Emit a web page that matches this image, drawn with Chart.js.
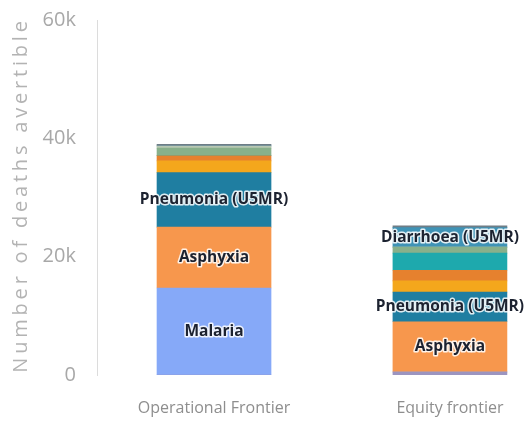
<!DOCTYPE html>
<html>
<head>
<meta charset="utf-8">
<script src="https://cdn.jsdelivr.net/npm/chart.js@4"></script>
<style>
  html, body { margin: 0; padding: 0; background: #fff; }
  #wrap { width: 524px; height: 426px; position: relative; }
</style>
</head>
<body>
<div id="wrap"><canvas id="deathsChart"></canvas></div>
<script>
// categories (x positions 0 and 1)
const categories = ['Operational Frontier', 'Equity frontier'];

// deaths avertible, thousands, bottom of stack first
const otherBottom = [0, 0.5];
const malaria = [14.7, 0];
const asphyxia = [10.3, 8.5];
const pneumonia = [9.2, 5.0];
const amberCause = [2.0, 1.9];
const rustCause = [0.85, 1.8];
const cyanCause = [0, 2.9];
const sageCause = [1.3, 1.0];
const paleCause = [0.35, 0];
const diarrhoea = [0, 3.3];
const topCause = [0.3, 0.3];

const yTicks = [0, 20, 40, 60];

const series = [
  { label: 'Other', data: otherBottom, color: '#9c95c0' },
  { label: 'Malaria', data: malaria, color: '#86a9f8', show: true },
  { label: 'Asphyxia', data: asphyxia, color: '#f7974d', show: true },
  { label: 'Pneumonia (U5MR)', data: pneumonia, color: '#1f7ea1', show: true },
  { label: 'Cause A', data: amberCause, color: '#f4a71c' },
  { label: 'Cause B', data: rustCause, color: '#e6812e' },
  { label: 'Cause C', data: cyanCause, color: '#1ea9ad' },
  { label: 'Cause D', data: sageCause, color: '#88b08b' },
  { label: 'Cause E', data: paleCause, color: '#b9c8b3' },
  { label: 'Diarrhoea (U5MR)', data: diarrhoea, color: '#3f93b6', show: true },
  { label: 'Cause F', data: topCause, color: '#6f7d86' }
];

// labels drawn in the middle of the big segments
const segmentLabels = {
  id: 'segmentLabels',
  afterDatasetsDraw(chart) {
    const ctx = chart.ctx;
    ctx.save();
    ctx.font = 'bold 15.5px "Open Sans"';
    ctx.textAlign = 'center';
    ctx.textBaseline = 'middle';
    ctx.lineJoin = 'round';
    chart.data.datasets.forEach((ds, di) => {
      if (!series[di].show) return;
      chart.getDatasetMeta(di).data.forEach((bar, i) => {
        if (series[di].data[i] < 3) return;
        const y = (bar.y + bar.base) / 2;
        ctx.lineWidth = 3;
        ctx.strokeStyle = 'rgba(255,255,255,0.85)';
        ctx.strokeText(ds.label, bar.x, y);
        ctx.fillStyle = '#1c2230';
        ctx.fillText(ds.label, bar.x, y);
      });
    });
    ctx.restore();
  }
};

// rotated y axis title, spaced out like the original
const yTitle = {
  id: 'yTitle',
  afterDraw(chart) {
    const ctx = chart.ctx;
    ctx.save();
    ctx.translate(21, 195);
    ctx.rotate(-Math.PI / 2);
    ctx.font = '20px "Open Sans"';
    ctx.letterSpacing = '3.8px';
    ctx.fillStyle = '#b3b3b3';
    ctx.textAlign = 'center';
    ctx.textBaseline = 'middle';
    ctx.fillText('Number of deaths avertible', 0, 0);
    ctx.restore();
  }
};

new Chart(document.getElementById('deathsChart'), {
  type: 'bar',
  data: {
    datasets: series.map(s => ({
      label: s.label,
      data: s.data.map((v, i) => ({ x: i, y: v })),
      backgroundColor: s.color,
      borderWidth: 0,
      barThickness: 114
    }))
  },
  options: {
    responsive: true,
    maintainAspectRatio: false,
    animation: false,
    layout: { padding: { top: 20, right: 4, bottom: 0, left: 0 } },
    plugins: {
      legend: { display: false },
      tooltip: { enabled: false }
    },
    scales: {
      x: {
        type: 'linear',
        offset: false,
        stacked: true,
        min: -0.496,
        max: 1.297,
        grid: { display: false, drawTicks: false },
        border: { display: false },
        afterBuildTicks: s => { s.ticks = categories.map((c, i) => ({ value: i })); },
        afterFit: s => { s.height = 51; s.paddingLeft = 0; s.paddingRight = 0; },
        ticks: {
          padding: 24,
          color: '#8e8e8e',
          font: { family: 'Open Sans', size: 16 },
          callback: v => categories[v]
        }
      },
      y: {
        stacked: true,
        min: 0,
        max: 60,
        grid: { display: false, drawTicks: false },
        border: { display: true, color: '#dcdcdc', width: 1 },
        afterBuildTicks: s => { s.ticks = yTicks.map(v => ({ value: v })); },
        afterFit: s => { s.width = 97; s.paddingTop = 0; s.paddingBottom = 0; },
        ticks: {
          padding: 21,
          color: '#a8a8a8',
          font: { family: 'Open Sans', size: 20 },
          callback: v => v === 0 ? '0' : v + 'k'
        }
      }
    }
  },
  plugins: [segmentLabels, yTitle]
});
</script>
</body>
</html>
